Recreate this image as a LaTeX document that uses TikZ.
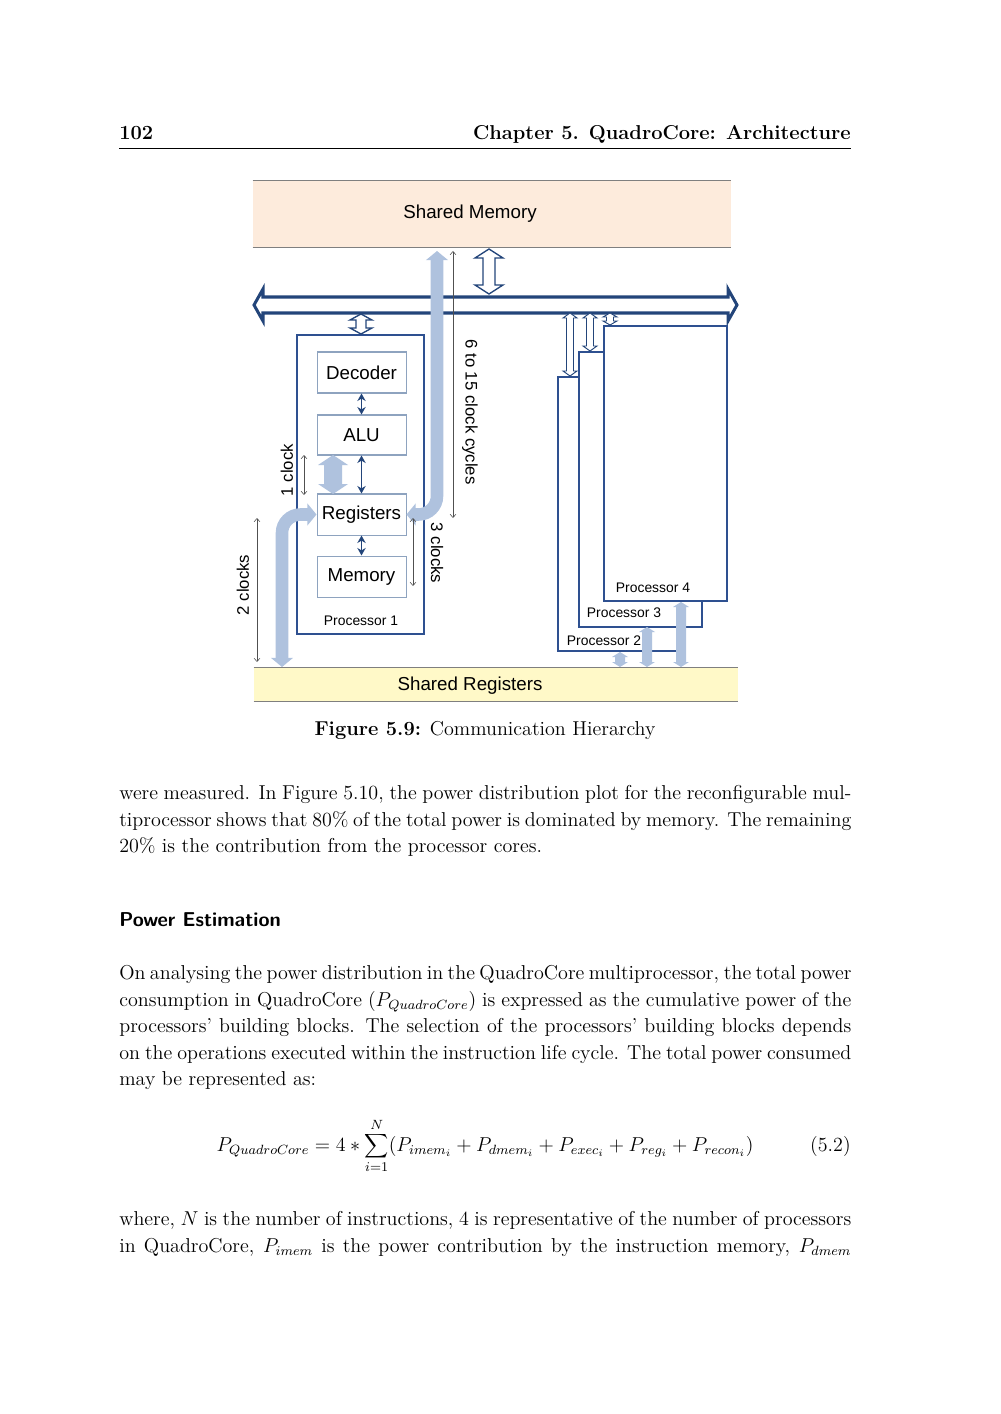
\documentclass[tikz,border=0pt]{standalone}
\usepackage{fontspec}
\newfontfamily\arial{Liberation Sans}
\usetikzlibrary{arrows.meta}
\definecolor{smfill}{HTML}{FDEBDC}
\definecolor{srfill}{HTML}{FFF9C8}
\definecolor{edgegray}{HTML}{7F7F7F}
\definecolor{busblue}{HTML}{23457A}
\definecolor{procblue}{HTML}{2E5090}
\definecolor{boxgray}{HTML}{8EA3BF}
\definecolor{lightblue}{HTML}{AFC2DE}
\definecolor{dimgray}{HTML}{505050}
\newcommand\pxu{0.5975pt}
\newcommand\vblock[7]{%
  \path[#1] (#2,#3) -- (#2+#6,#3+#7) -- (#2+#5,#3+#7) -- (#2+#5,#4-#7) -- (#2+#6,#4-#7)
   -- (#2,#4) -- (#2-#6,#4-#7) -- (#2-#5,#4-#7) -- (#2-#5,#3+#7) -- (#2-#6,#3+#7) -- cycle;}
\begin{document}
\begin{tikzpicture}[x=0.5975pt,y=-0.5975pt,
  txt/.style={inner sep=0, font=\fontsize{12}{14.5}\selectfont},
  diag/.style={inner sep=0, font=\arial\fontsize{11.2}{13}\selectfont},
  innerbox/.style={diag, draw=boxgray, line width=0.6pt, fill=white,
    minimum width=89*\pxu, minimum height=41*\pxu},
  procbox/.style={draw=procblue, line width=0.8pt, fill=white, inner sep=0},
  plabel/.style={inner sep=0, font=\arial\fontsize{8.3}{10}\selectfont},
  dimlabel/.style={inner sep=0, font=\arial\fontsize{10}{12}\selectfont},
  dimarrow/.style={draw=dimgray, line width=0.35pt,
    {Straight Barb[length=2pt,width=3.5pt]}-{Straight Barb[length=2pt,width=3.5pt]}},
  linkarrow/.style={draw=busblue, line width=0.9pt,
    {Stealth[length=4.5pt,width=5pt]}-{Stealth[length=4.5pt,width=5pt]}},
  fatarrow/.style={fill=lightblue, draw=none},
  hollow/.style={draw=busblue, fill=white, line width=0.8pt, line join=miter},
  thinhollow/.style={draw=busblue, fill=white, line width=0.55pt, line join=miter},
  curvarrow/.style={draw=lightblue, line width=7.5pt, rounded corners=11pt,
    {Triangle[length=5.5pt,width=13pt]}-{Triangle[length=5.5pt,width=13pt]}},
  edgeline/.style={draw=edgegray, line width=0.6pt}
]
\path[use as bounding box] (0,0) rectangle (1000,1414);

% ---------- header ----------
\node[txt, anchor=base west, font=\fontsize{12}{14.5}\selectfont\bfseries] (pageno) at (119,140) {102};
\node[txt, anchor=base east, font=\fontsize{12}{14.5}\selectfont\bfseries] (chap) at (851,140) {Chapter 5. QuadroCore: Architecture};
\draw[line width=0.5pt] (119,148) coordinate (hl) -- (851,148) coordinate (hr);

% ---------- shared memory ----------
\node[diag, fill=smfill, minimum width=478*\pxu, minimum height=66*\pxu] (sm) at (492,214) {};
\node[diag] (smlab) at (470,214) {Shared Memory};
\draw[edgeline] (sm.north west) -- (sm.north east);
\draw[edgeline] (sm.south west) -- (sm.south east);

% ---------- bus ----------
\path[hollow, line width=1.8pt] (254,305) coordinate (busl) -- (263,289) -- (263,297) -- (728,297) -- (728,289)
  -- (737,305) coordinate (busr) -- (728,321) -- (728,313) -- (263,313) -- (263,321) -- cycle;

% memory <-> bus
\vblock{hollow}{489}{249}{294}{6}{14}{9}

% ---------- processors 2-4 ----------
\node[procbox, minimum width=119*\pxu, minimum height=274*\pxu] (p2) at (617.5,514) {};
\node[procbox, minimum width=123*\pxu, minimum height=275*\pxu] (p3) at (640.5,489.5) {};
\node[procbox, minimum width=123*\pxu, minimum height=275*\pxu] (p4) at (665.5,463.5) {};
\node[plabel] (p4lab) at (653,588) {Processor 4};
\node[plabel] (p3lab) at (624,613) {Processor 3};
\node[plabel] (p2lab) at (604,641) {Processor 2};
\vblock{thinhollow}{570}{313}{376}{3.5}{7}{5}
\vblock{thinhollow}{590}{313}{351}{3.5}{7}{5}
\vblock{thinhollow}{610}{313}{325}{3.5}{7}{4}

% ---------- shared registers ----------
\node[diag, fill=srfill, minimum width=484*\pxu, minimum height=33*\pxu] (sr) at (496,684.5) {};
\node[diag] (srlab) at (470,685.5) {Shared Registers};
\draw[edgeline] (sr.north west) -- (sr.north east);
\draw[edgeline] (sr.south west) -- (sr.south east);

\vblock{fatarrow}{620}{652}{667}{5}{8}{5}
\vblock{fatarrow}{647}{627}{667}{5}{8}{5}
\vblock{fatarrow}{681}{602}{667}{5}{8}{5}

% ---------- processor 1 ----------
\node[procbox, minimum width=127*\pxu, minimum height=299*\pxu] (p1) at (360.5,484.5) {};
\node[plabel] (p1lab) at (361,621) {Processor 1};
\vblock{hollow}{361}{314}{334}{5}{11}{6}

\node[innerbox] (dec) at (361.5,372.5) {Decoder};
\node[innerbox, minimum height=40*\pxu] (alu) at (361.5,435) {ALU};
\node[innerbox] (reg) at (361.5,514.5) {Registers};
\node[innerbox] (mem) at (361.5,576.5) {Memory};

\draw[linkarrow] (dec.south) -- (alu.north);
\draw[linkarrow] (alu.south) -- (reg.north);
\draw[linkarrow] (reg.south) -- (mem.north);

\vblock{fatarrow}{333}{455}{494}{9}{15}{10}

% curved light-blue arrows
\coordinate (srl) at (282,667);
\coordinate (smb) at (437,251);
\draw[curvarrow] (reg.west) -| (srl);
\draw[curvarrow] (reg.east) -| (smb);

% ---------- dimension arrows ----------
\coordinate (d1a) at (304,455); \coordinate (d1b) at (304,495);
\draw[dimarrow] (d1a) -- (d1b);
\node[dimlabel, rotate=90] (l1) at (287,470) {1 clock};

\coordinate (d2a) at (257,518); \coordinate (d2b) at (257,662);
\draw[dimarrow] (d2a) -- (d2b);
\node[dimlabel, rotate=90] (l2) at (243,585) {2 clocks};

\coordinate (d3a) at (453,251); \coordinate (d3b) at (453,518);
\draw[dimarrow] (d3a) -- (d3b);
\node[dimlabel, rotate=-90] (l3) at (470,412) {6 to 15 clock cycles};

\coordinate (d4a) at (413,518); \coordinate (d4b) at (413,586);
\draw[dimarrow] (d4a) -- (d4b);
\node[dimlabel, rotate=-90] (l4) at (437,553) {3 clocks};

% ---------- caption ----------
\node[txt, anchor=base] (cap) at (485,735) {\textbf{Figure 5.9:} Communication Hierarchy};

% ---------- body text ----------
\node[txt, anchor=base west] (t1) at (119,799) {\makebox[437.4pt][s]{were measured. In Figure 5.10, the power distribution plot for the reconfigurable mul-}};
\node[txt, anchor=base west] (t2) at (119,826) {\makebox[437.4pt][s]{tiprocessor shows that 80\% of the total power is dominated by memory. The remaining}};
\node[txt, anchor=base west] (t3) at (119,852) {20\% is the contribution from the processor cores.};

\node[txt, anchor=base west, font=\fontsize{12}{14.5}\selectfont\sffamily\bfseries] (head) at (119,926) {Power Estimation};

\node[txt, anchor=base west] (u1) at (119,979) {\makebox[437.4pt][s]{On analysing the power distribution in the QuadroCore multiprocessor, the total power}};
\node[txt, anchor=base west] (u2) at (119,1006) {\makebox[437.4pt][s]{consumption in QuadroCore ($P_{QuadroCore}$) is expressed as the cumulative power of the}};
\node[txt, anchor=base west] (u3) at (119,1032) {\makebox[437.4pt][s]{processors' building blocks. The selection of the processors' building blocks depends}};
\node[txt, anchor=base west] (u4) at (119,1059) {\makebox[437.4pt][s]{on the operations executed within the instruction life cycle. The total power consumed}};
\node[txt, anchor=base west] (u5) at (119,1085) {may be represented as:};

\node[txt, anchor=base] (eq) at (485,1151) {$\displaystyle P_{QuadroCore} = 4 * \sum_{i=1}^{N}(P_{imem_i} + P_{dmem_i} + P_{exec_i} + P_{reg_i} + P_{recon_i})$};
\node[txt, anchor=base east] (eqno) at (851,1151) {(5.2)};

\node[txt, anchor=base west] (v1) at (119,1225) {\makebox[437.4pt][s]{where, $N$ is the number of instructions, 4 is representative of the number of processors}};
\node[txt, anchor=base west] (v2) at (119,1252) {\makebox[437.4pt][s]{in QuadroCore, $P_{imem}$ is the power contribution by the instruction memory, $P_{dmem}$}};
\end{tikzpicture}
\end{document}
